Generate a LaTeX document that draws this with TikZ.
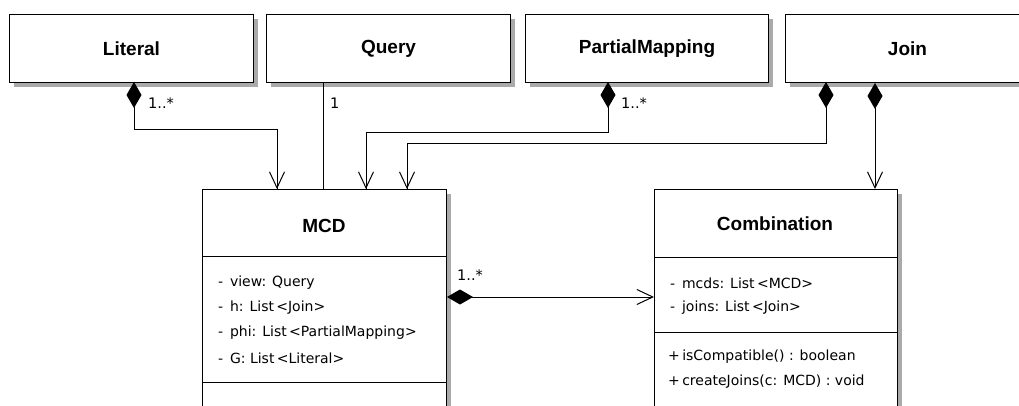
\documentclass[tikz,border=0pt]{standalone}
\usepackage{fontspec}
\setmainfont{Liberation Sans}
\newfontfamily\attrfont{DejaVu Sans}
\usetikzlibrary{arrows.meta}
\definecolor{shadowgray}{RGB}{170,170,170}
\begin{document}
\begin{tikzpicture}[x=1pt,y=-1pt,
  cls/.style={draw, fill=white, line width=1pt, anchor=north west, inner sep=0pt},
  shdw/.style={fill=shadowgray, draw=none},
  ttl/.style={font=\fontsize{19}{19}\selectfont\bfseries, inner sep=0pt},
  attr/.style={font=\attrfont\fontsize{14}{14}\selectfont, anchor=west, inner sep=0pt},
  mult/.style={font=\attrfont\fontsize{14.5}{14.5}\selectfont, anchor=west, inner sep=0pt},
  conn/.style={line width=1pt},
  opn/.style={-{Straight Barb[length=16pt,width=15pt,line width=1pt]}},
  dia/.style={{Diamond[length=26pt,width=15pt]}-},
  diaopn/.style={{Diamond[length=26pt,width=15pt]}-{Straight Barb[length=16pt,width=15pt,line width=1pt]}},
]
\useasboundingbox (0,0) rectangle (1019,406);
\clip (0,0) rectangle (1019,406);
% shadows
\path[shdw] (14,19) rectangle (258,87);
\path[shdw] (271,19) rectangle (515,87);
\path[shdw] (530,19) rectangle (773,87);
\path[shdw] (790,19) rectangle (1034,87);
\path[shdw] (207,194) rectangle (451,430);
\path[shdw] (659,194) rectangle (902,430);
% top classes
\node[cls, minimum width=244pt, minimum height=68pt] (lit) at (9,14) {};
\node[ttl] at (lit.center) {Literal};
\node[cls, minimum width=244pt, minimum height=68pt] (qry) at (266,14) {};
\node[ttl] at (qry.center) {Query};
\node[cls, minimum width=243pt, minimum height=68pt] (pm) at (525,14) {};
\node[ttl] at (pm.center) {PartialMapping};
\node[cls, minimum width=244pt, minimum height=68pt] (join) at (785,14) {};
\node[ttl] at (join.center) {Join};
% MCD
\node[cls, minimum width=244pt, minimum height=240pt] (mcd) at (202,189) {};
\node[ttl] at (324,226) {MCD};
\draw[conn] (202,256) -- (446,256);
\draw[conn] (202,382) -- (446,382);
\node[attr] (m1) at (218,283) {-\, view: Query};
\node[attr] (m2) at (218,308) {-\, h: List\,<Join>};
\node[attr] (m3) at (218,333) {-\, phi: List\,<PartialMapping>};
\node[attr] (m4) at (218,358) {-\, G: List\,<Literal>};
% Combination
\node[cls, minimum width=243pt, minimum height=240pt] (comb) at (654,189) {};
\node[ttl] at (775,224) {Combination};
\draw[conn] (654,257) -- (897,257);
\draw[conn] (654,332) -- (897,332);
\node[attr] (c1) at (670,283) {-\, mcds: List\,<MCD>};
\node[attr] (c2) at (670,308) {-\, joins: List\,<Join>};
\node[attr] (c3) at (668,357) {+\,isCompatible() : boolean};
\node[attr] (c4) at (668,382) {+\,createJoins(c: MCD) : void};
% connectors
\coordinate (a1) at (134,82);
\coordinate (a2) at (277,189);
\draw[conn, dia] (a1) -- (134,130) -- (277,130) -- (a2);
\draw[conn, opn] (277,130) -- (a2);
\draw[conn] (qry.south -| 323,0) -- (mcd.north -| 323,0);
\coordinate (b1) at (608,82);
\coordinate (b2) at (366,189);
\draw[conn, dia] (b1) -- (608,133) -- (366,133) -- (b2);
\draw[conn, opn] (366,133) -- (b2);
\coordinate (j1) at (826,82);
\coordinate (j2) at (407,189);
\draw[conn, dia] (j1) -- (826,144) -- (407,144) -- (j2);
\draw[conn, opn] (407,144) -- (j2);
\draw[conn, diaopn] (join.south -| 875,0) -- (comb.north -| 875,0);
\draw[conn, diaopn] (mcd.east |- 0,297) -- (comb.west |- 0,297);
% multiplicities
\node[mult] (l1) at (148,103) {1..*};
\node[mult] (l2) at (330,103) {1};
\node[mult] (l3) at (621,103) {1..*};
\node[mult] (l4) at (457,275) {1..*};
\end{tikzpicture}
\end{document}
